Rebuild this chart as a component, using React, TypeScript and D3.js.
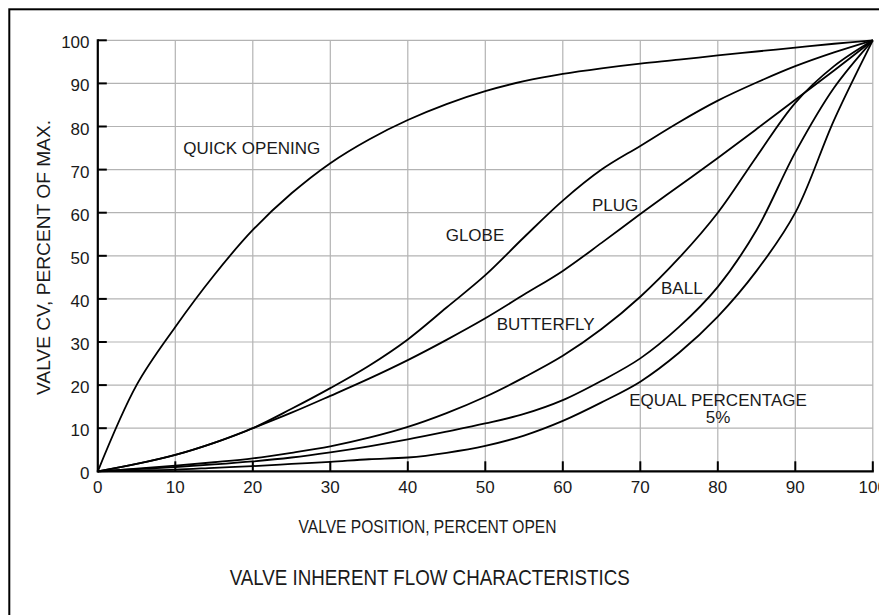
import React from 'react'
import * as d3 from 'd3'

// valve position, percent open
const positions = [0, 5, 10, 15, 20, 25, 30, 35, 40, 45, 50, 55, 60, 65, 70, 75, 80, 85, 90, 95, 100]

// valve Cv, percent of max, read at each position
const quickOpening = [0, 20, 33.5, 45.5, 56, 64.5, 71.5, 77, 81.5, 85.2, 88.2, 90.5, 92.2, 93.5, 94.6, 95.5, 96.5, 97.4, 98.3, 99.2, 100]
const globe = [0, 1.7, 3.8, 6.6, 10, 14.5, 19.3, 24.5, 30.6, 38, 45.5, 54.3, 62.8, 70, 75.5, 81, 86, 90.2, 94, 97.2, 100]
const plug = [0, 1.7, 3.8, 6.6, 10, 13.6, 17.5, 21.5, 25.8, 30.5, 35.5, 41, 46.5, 53, 59.7, 66.2, 72.7, 79.4, 86.2, 93, 100]
const butterfly = [0, 0.6, 1.3, 2.1, 3, 4.3, 5.8, 7.8, 10.3, 13.5, 17.3, 21.8, 26.8, 33, 40.5, 49.5, 60, 73, 85.5, 94, 100]
const ball = [0, 0.5, 1, 1.6, 2.3, 3.2, 4.4, 5.8, 7.4, 9.2, 11.1, 13.3, 16.5, 21, 26.2, 33.5, 42.8, 56, 74, 89, 100]
const equalPercentage = [0, 0.2, 0.4, 0.8, 1.2, 1.7, 2.2, 2.8, 3.2, 4.3, 5.9, 8.3, 11.7, 16, 20.8, 27.5, 35.9, 46.5, 60, 81.5, 100]

const tickValues = [0, 10, 20, 30, 40, 50, 60, 70, 80, 90, 100]

const FONT = "'Liberation Sans', Arial, Helvetica, sans-serif"
const INK = '#1a1a1a'

const App = () => {
  const width = 879
  const height = 615

  const x = d3.scaleLinear().domain([0, 100]).range([97.8, 872.8])
  const y = d3.scaleLinear().domain([0, 100]).range([471.3, 40.3])

  const line = d3
    .line<number>()
    .x((_, i) => x(positions[i]))
    .y((d) => y(d))
    .curve(d3.curveCatmullRom.alpha(0.5))

  const series = [quickOpening, globe, plug, butterfly, ball, equalPercentage]

  return (
    <svg
      width={width}
      height={height}
      style={{ position: 'absolute', left: 0, top: 0, background: '#fff' }}
      fontFamily={FONT}
    >
      {/* outer frame, cut by the picture edge on right and bottom */}
      <rect x={9.3} y={9.3} width={900} height={700} fill="none" stroke="#000" strokeWidth={2} />

      {/* grid */}
      {tickValues.slice(1).map((t) => (
        <line key={'v' + t} x1={x(t)} x2={x(t)} y1={y(0)} y2={y(100)} stroke="#b3b3b3" strokeWidth={1.2} />
      ))}
      {tickValues.slice(1).map((t) => (
        <line key={'h' + t} x1={x(0)} x2={x(100)} y1={y(t)} y2={y(t)} stroke="#b3b3b3" strokeWidth={1.2} />
      ))}

      {/* axes */}
      <line x1={x(0)} x2={x(0)} y1={y(0) + 1} y2={y(100) - 1} stroke="#000" strokeWidth={2.2} />
      <line x1={x(0) - 1} x2={x(100) + 1} y1={y(0)} y2={y(0)} stroke="#000" strokeWidth={2.2} />
      {tickValues.slice(1).map((t) => (
        <line key={'yt' + t} x1={x(0)} x2={x(0) + 9} y1={y(t)} y2={y(t)} stroke="#000" strokeWidth={2} />
      ))}
      {tickValues.slice(1).map((t) => (
        <line key={'xt' + t} x1={x(t)} x2={x(t)} y1={y(0)} y2={y(0) - 10} stroke="#000" strokeWidth={2} />
      ))}

      {/* tick labels */}
      {tickValues.map((t) => (
        <text key={'yl' + t} x={89.5} y={y(t) + 8} textAnchor="end" fontSize={17} fill={INK}>
          {t}
        </text>
      ))}
      {tickValues.map((t) => (
        <text key={'xl' + t} x={x(t)} y={493} textAnchor="middle" fontSize={17} fill={INK}>
          {t}
        </text>
      ))}

      {/* curves */}
      {series.map((s, i) => (
        <path key={'s' + i} d={line(s) || ''} fill="none" stroke="#000" strokeWidth={1.8} />
      ))}

      {/* curve labels */}
      <g fontSize={17} fill={INK}>
        <text x={183.3} y={154.3}>QUICK OPENING</text>
        <text x={445.7} y={241}>GLOBE</text>
        <text x={592} y={210.7}>PLUG</text>
        <text x={496.7} y={330}>BUTTERFLY</text>
        <text x={661} y={294}>BALL</text>
        <text x={718} y={405.7} textAnchor="middle">EQUAL PERCENTAGE</text>
        <text x={718} y={423.3} textAnchor="middle">5%</text>
      </g>

      {/* axis titles */}
      <text
        transform={`translate(50,257.5) rotate(-90)`}
        textAnchor="middle"
        fontSize={18.5}
        fill={INK}
        textLength={275}
        lengthAdjust="spacingAndGlyphs"
      >
        VALVE CV, PERCENT OF MAX.
      </text>
      <text
        x={427.5}
        y={533.3}
        textAnchor="middle"
        fontSize={19}
        fill={INK}
        textLength={258}
        lengthAdjust="spacingAndGlyphs"
      >
        VALVE POSITION, PERCENT OPEN
      </text>
      <text
        x={429.7}
        y={585}
        textAnchor="middle"
        fontSize={21.5}
        fill={INK}
        textLength={400}
        lengthAdjust="spacingAndGlyphs"
      >
        VALVE INHERENT FLOW CHARACTERISTICS
      </text>
    </svg>
  )
}

export default App
